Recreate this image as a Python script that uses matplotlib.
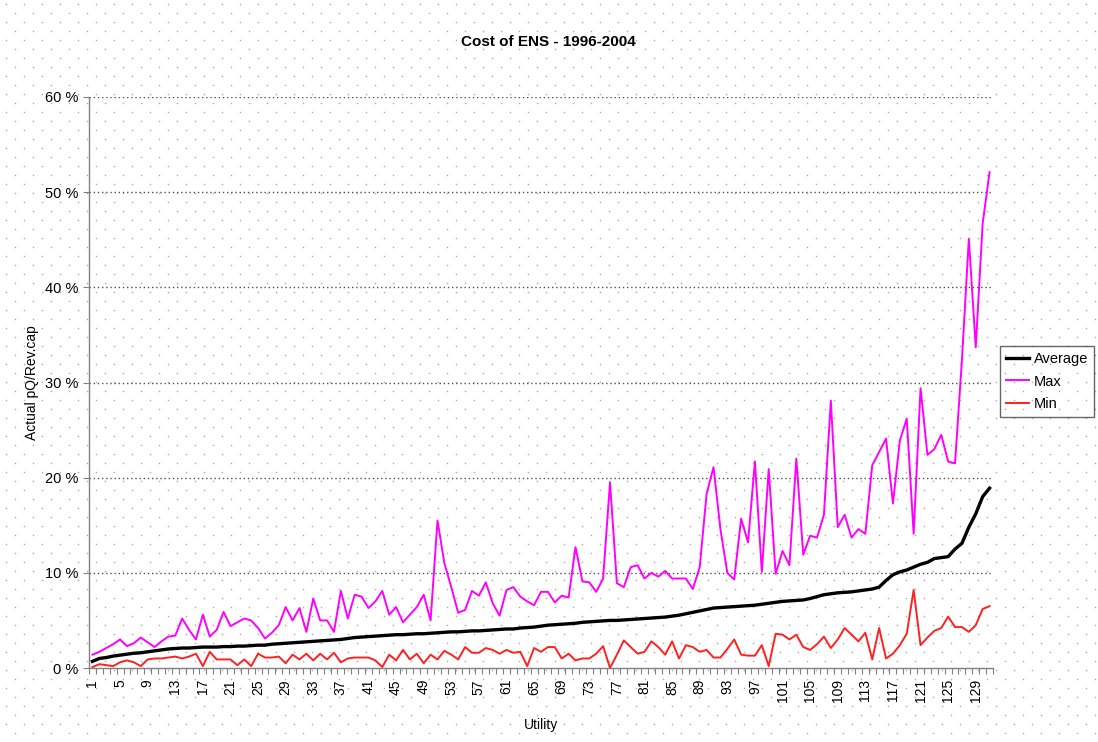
import numpy as np
import matplotlib.pyplot as plt

plt.rcParams['font.family'] = ['Liberation Sans', 'DejaVu Sans']

# values, in percent, utilities 1..131
average = [0.7, 1.0, 1.1, 1.25, 1.35, 1.45, 1.55, 1.6, 1.7, 1.8,
           1.9, 2.0, 2.05, 2.1, 2.1, 2.15, 2.2, 2.2, 2.2, 2.25,
           2.25, 2.3, 2.3, 2.35, 2.4, 2.4, 2.5, 2.55, 2.6, 2.65,
           2.7, 2.75, 2.8, 2.85, 2.9, 2.95, 3.0, 3.1, 3.2, 3.25,
           3.3, 3.35, 3.4, 3.45, 3.5, 3.5, 3.55, 3.6, 3.6, 3.65,
           3.7, 3.75, 3.8, 3.8, 3.85, 3.9, 3.9, 3.95, 4.0, 4.05,
           4.1, 4.1, 4.2, 4.25, 4.3, 4.4, 4.5, 4.55, 4.6, 4.65,
           4.7, 4.8, 4.85, 4.9, 4.95, 5.0, 5.0, 5.05, 5.1, 5.15,
           5.2, 5.25, 5.3, 5.35, 5.45, 5.55, 5.7, 5.85, 6.0, 6.15,
           6.3, 6.35, 6.4, 6.45, 6.5, 6.55, 6.6, 6.7, 6.8, 6.9,
           7.0, 7.05, 7.1, 7.15, 7.3, 7.5, 7.7, 7.8, 7.9, 7.95,
           8.0, 8.1, 8.2, 8.3, 8.5, 9.2, 9.8, 10.1, 10.3, 10.6,
           10.9, 11.1, 11.5, 11.6, 11.7, 12.5, 13.1, 14.8, 16.2, 18.0, 18.9]

maximum = [1.4, 1.7, 2.1, 2.5, 3.0, 2.3, 2.6, 3.2, 2.7, 2.2,
           2.8, 3.3, 3.4, 5.2, 4.0, 3.0, 5.6, 3.3, 4.0, 5.9,
           4.4, 4.8, 5.2, 5.0, 4.2, 3.1, 3.7, 4.5, 6.4, 5.0,
           6.3, 3.8, 7.3, 5.0, 5.0, 3.8, 8.1, 5.2, 7.7, 7.5,
           6.3, 7.0, 8.1, 5.6, 6.4, 4.8, 5.6, 6.4, 7.7, 5.0,
           15.5, 11.0, 8.5, 5.8, 6.1, 8.1, 7.6, 9.0, 6.8, 5.5,
           8.2, 8.5, 7.5, 7.0, 6.6, 8.0, 8.0, 6.9, 7.6, 7.4,
           12.7, 9.1, 9.0, 8.0, 9.4, 19.5, 8.9, 8.5, 10.6, 10.8,
           9.4, 10.0, 9.6, 10.2, 9.4, 9.4, 9.4, 8.3, 10.6, 18.3,
           21.1, 14.6, 10.0, 9.3, 15.7, 13.2, 21.7, 10.1, 20.9, 9.9,
           12.3, 10.8, 22.0, 11.9, 13.9, 13.7, 16.1, 28.1, 14.8, 16.1,
           13.7, 14.6, 14.1, 21.3, 22.7, 24.1, 17.3, 23.9, 26.2, 14.1,
           29.4, 22.4, 23.0, 24.5, 21.7, 21.5, 32.4, 45.1, 33.7, 46.7, 52.1]

minimum = [0.1, 0.4, 0.3, 0.2, 0.6, 0.8, 0.6, 0.2, 0.9, 1.0,
           1.0, 1.1, 1.2, 1.0, 1.2, 1.5, 0.2, 1.7, 0.9, 0.9,
           0.9, 0.3, 0.9, 0.2, 1.5, 1.1, 1.1, 1.2, 0.5, 1.4,
           0.9, 1.5, 0.8, 1.5, 0.9, 1.6, 0.6, 1.0, 1.1, 1.1,
           1.1, 0.8, 0.1, 1.4, 0.8, 1.9, 0.9, 1.5, 0.5, 1.4,
           0.9, 1.8, 1.4, 0.9, 2.2, 1.6, 1.6, 2.1, 1.9, 1.5,
           1.9, 1.6, 1.7, 0.2, 2.1, 1.7, 2.2, 2.2, 1.0, 1.5,
           0.8, 1.0, 1.0, 1.5, 2.3, 0.0, 1.4, 2.9, 2.2, 1.5,
           1.7, 2.8, 2.2, 1.4, 2.8, 1.0, 2.4, 2.2, 1.7, 1.9,
           1.1, 1.1, 2.0, 3.0, 1.4, 1.3, 1.3, 2.4, 0.2, 3.6,
           3.5, 3.0, 3.5, 2.2, 1.9, 2.5, 3.3, 2.1, 3.0, 4.2,
           3.5, 2.8, 3.7, 0.9, 4.2, 1.0, 1.5, 2.4, 3.6, 8.2,
           2.4, 3.2, 3.9, 4.2, 5.4, 4.3, 4.3, 3.8, 4.5, 6.2, 6.5]

utility = np.arange(1, len(average) + 1)
x_labels = utility[::4]
y_ticks = [0, 10, 20, 30, 40, 50, 60]
y_labels = ['%d %%' % v for v in y_ticks]

W, H = 1098, 742
fig = plt.figure(figsize=(W / 100, H / 100), dpi=100)
fig.patch.set_facecolor('white')

# dotted paper texture behind everything
bg = fig.add_axes([0, 0, 1, 1], zorder=0)
bg.set_xlim(0, W)
bg.set_ylim(H, 0)
bg.axis('off')
rows = np.arange(4, H, 9)
px, py = [], []
for k, r in enumerate(rows):
    cols = np.arange(6 + (k % 2) * 9, W, 18)
    px.extend(cols)
    py.extend([r] * len(cols))
bg.scatter(px, py, s=1.4, color='#b0b0b0', linewidths=0)

ax = fig.add_axes([89 / W, 1 - 668 / H, 904 / W, 571 / H], zorder=1)
ax.set_facecolor('none')

ax.plot(utility, average, color='black', lw=2.4, label='Average', zorder=4)
ax.plot(utility, maximum, color='#ff00ff', lw=1.4, label='Max', zorder=3)
ax.plot(utility, minimum, color='#ff2020', lw=1.4, label='Min', zorder=3)

ax.set_xlim(0.5, len(utility) + 0.5)
ax.set_ylim(0, 60)
ax.set_yticks(y_ticks)
ax.set_yticklabels(y_labels, fontsize=10.5)
ax.set_xticks(x_labels)
ax.set_xticklabels([str(v) for v in x_labels], rotation=90, fontsize=10)
ax.set_xticks(np.arange(0.5, len(utility) + 1, 1), minor=True)
ax.tick_params(axis='x', which='major', length=0, pad=8)
ax.tick_params(axis='x', which='minor', length=4, color='#808080', width=0.8)
ax.tick_params(axis='y', length=4, color='#808080', width=0.8, pad=4)

for v in y_ticks[1:]:
    ax.axhline(v, color='#505050', lw=1, ls=(0, (1, 2)), zorder=1)

for s in ['top', 'right']:
    ax.spines[s].set_visible(False)
for s in ['left', 'bottom']:
    ax.spines[s].set_color('#808080')
    ax.spines[s].set_linewidth(1)

ax.set_xlabel('Utility', fontsize=10, labelpad=11)
ax.set_ylabel('Actual pQ/Rev.cap', fontsize=10, labelpad=4)
fig.text(548 / W, 1 - 42 / H, 'Cost of ENS - 1996-2004', ha='center', va='center',
         fontsize=11, fontweight='bold')

leg = fig.legend(loc='upper left', bbox_to_anchor=(1000 / W, 1 - 346 / H),
                 fontsize=10.5, frameon=True, fancybox=False, handlelength=1.6,
                 handletextpad=0.3, labelspacing=0.6, borderpad=0.4,
                 borderaxespad=0)
leg.get_frame().set_edgecolor('#404040')
leg.get_frame().set_linewidth(1)
leg.get_frame().set_facecolor('none')

fig.savefig('out.png', dpi=100)
